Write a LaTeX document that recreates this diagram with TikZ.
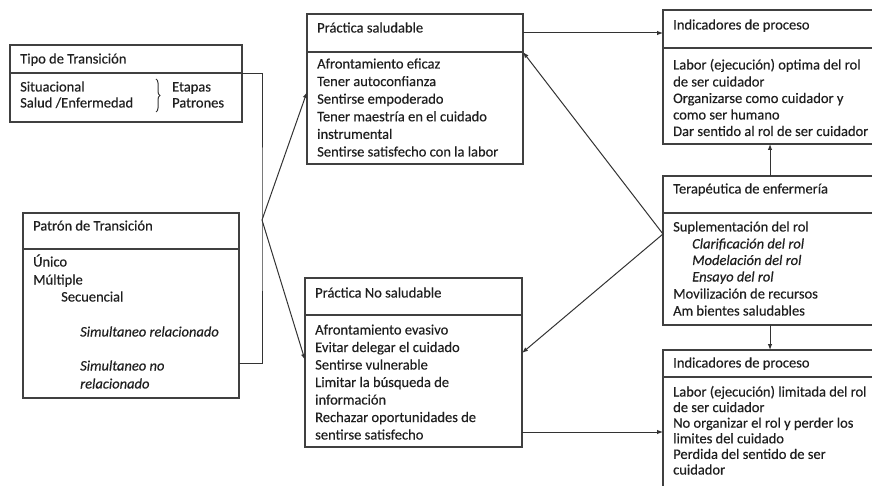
\documentclass[tikz,border=0pt]{standalone}
\usepackage{fontspec}
\setmainfont[FakeBold=0.35]{Carlito}
\usetikzlibrary{arrows.meta,decorations.pathreplacing}
\newcommand\mkbox[5]{\node[box, minimum width=#4pt, minimum height=#5pt] (#1) at (#2,#3) {};}
\newcommand\putline[4]{\node[txt] (#1) at (#2,#3+4.5) {#4};}
\newcommand\putital[4]{\node[itx] (#1) at (#2,#3+4.5) {#4};}
\begin{document}
\begin{tikzpicture}[x=1pt,y=-1pt,
 box/.style={draw=black!75, line width=1.3pt, inner sep=0pt, outer sep=0pt, anchor=north west},
 divl/.style={draw=black!75, line width=1.3pt},
 txt/.style={inner sep=0pt, anchor=base west, font=\fontsize{14.5}{17}\selectfont, text=black!88},
 itx/.style={txt, font=\fontsize{14.5}{17}\selectfont\itshape},
 conn/.style={draw=black!80, line width=1pt},
 arr/.style={conn, -{Latex[length=6pt,width=4.5pt]}}]
\useasboundingbox (0,0) rectangle (872,486);
\clip (0,0) rectangle (872,486);
% boxes
\mkbox{tipo}{10}{45}{232}{77}
\mkbox{patron}{23}{213}{216}{185}
\mkbox{sal}{307}{14}{216}{150}
\mkbox{nosal}{305}{278}{217}{169}
\mkbox{ind1}{663}{10}{230}{134}
\mkbox{ter}{663}{176}{230}{149}
\mkbox{ind2}{663}{350}{230}{160}
% dividers
\draw[divl] (tipo.west |- 0,73) -- (tipo.east |- 0,73);
\draw[divl] (patron.west |- 0,249) -- (patron.east |- 0,249);
\draw[divl] (sal.west |- 0,52) -- (sal.east |- 0,52);
\draw[divl] (nosal.west |- 0,315) -- (nosal.east |- 0,315);
\draw[divl] (ind1.west |- 0,48) -- (ind1.east |- 0,48);
\draw[divl] (ter.west |- 0,213) -- (ter.east |- 0,213);
\draw[divl] (ind2.west |- 0,377) -- (ind2.east |- 0,377);
% tipo
\putline{tA}{20}{59}{Tipo de Transición}
\putline{tB}{20}{87}{Situacional}
\putline{tC}{20}{103}{Salud /Enfermedad}
\putline{tD}{172}{87}{Etapas}
\putline{tE}{172}{103}{Patrones}
\draw[conn, decorate, decoration={brace,amplitude=4pt}] (156,79) -- (156,112);
% patron
\putline{pA}{33}{226}{Patrón de Transición}
\putline{pB}{33}{262}{Único}
\putline{pC}{33}{280}{Múltiple}
\putline{pD}{61}{297}{Secuencial}
\putital{pE}{80}{332}{Simultaneo relacionado}
\putital{pF}{80}{366}{Simultaneo no}
\putital{pG}{80}{384}{relacionado}
% practica saludable
\putline{sA}{317}{28}{Práctica saludable}
\putline{sB}{317}{64}{Afrontamiento eficaz}
\putline{sC}{317}{81.6}{Tener autoconfianza}
\putline{sD}{317}{99.2}{Sentirse empoderado}
\putline{sE}{317}{116.8}{Tener maestría en el cuidado}
\putline{sF}{317}{134.4}{instrumental}
\putline{sG}{317}{152}{Sentirse satisfecho con la labor}
% practica no saludable
\putline{nA}{315}{293}{Práctica No saludable}
\putline{nB}{315}{330}{Afrontamiento evasivo}
\putline{nC}{315}{347.5}{Evitar delegar el cuidado}
\putline{nD}{315}{365}{Sentirse vulnerable}
\putline{nE}{315}{382.5}{Limitar la búsqueda de}
\putline{nF}{315}{400}{información}
\putline{nG}{315}{417.5}{Rechazar oportunidades de}
\putline{nH}{315}{435}{sentirse satisfecho}
% indicadores 1
\putline{aA}{673}{25}{Indicadores de proceso}
\putline{aB}{673}{65}{Labor (ejecución) optima del rol}
\putline{aC}{673}{82}{de ser cuidador}
\putline{aD}{673}{98.5}{Organizarse como cuidador y}
\putline{aE}{673}{115}{como ser humano}
\putline{aF}{673}{131.5}{Dar sentido al rol de ser cuidador}
% terapeutica
\putline{eA}{673}{189}{Terapéutica de enfermería}
\putline{eB}{673}{227}{Suplementación del rol}
\putital{eC}{692}{244}{Clarificación del rol}
\putital{eD}{692}{260.5}{Modelación del rol}
\putital{eE}{692}{277}{Ensayo del rol}
\putline{eF}{673}{294}{Movilización de recursos}
\putline{eG}{673}{311}{Am bientes saludables}
% indicadores 2
\putline{bA}{673}{363}{Indicadores de proceso}
\putline{bB}{673}{392}{Labor (ejecución) limitada del rol}
\putline{bC}{673}{407.6}{de ser cuidador}
\putline{bD}{673}{423.2}{No organizar el rol y perder los}
\putline{bE}{673}{438.8}{limites del cuidado}
\putline{bF}{673}{454.4}{Perdida del sentido de ser}
\putline{bG}{673}{470}{cuidador}
% connectors
\coordinate (j) at (262,220);
\draw[conn] (tipo.east |- 0,74) -| (j) |- (patron.east |- 0,363);
\draw[arr] (j) -- (sal.west |- 0,92);
\draw[arr] (j) -- (nosal.west |- 0,360);
\draw[arr] (sal.east |- 0,33) -- (ind1.west |- 0,33);
\coordinate (k) at (ter.west |- 0,234);
\draw[arr] (k) -- (sal.east |- 0,52);
\draw[arr] (k) -- (nosal.east |- 0,353);
\draw[arr] (nosal.east |- 0,432) -- (ind2.west |- 0,432);
\coordinate (vx) at (770,0);
\draw[arr] (ter.north -| vx) -- (ind1.south -| vx);
\draw[arr] (ter.south -| vx) -- (ind2.north -| vx);
\end{tikzpicture}
\end{document}
